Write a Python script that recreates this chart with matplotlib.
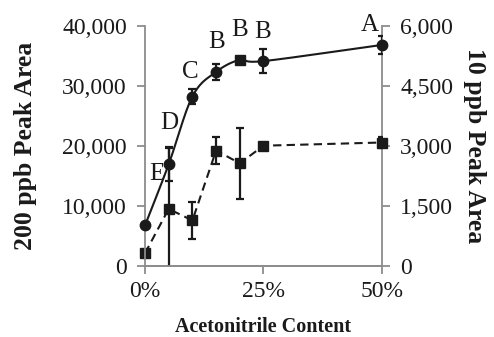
import numpy as np
import matplotlib
matplotlib.use("Agg")
import matplotlib.pyplot as plt
from matplotlib.ticker import FuncFormatter

plt.rcParams['font.family'] = ['Liberation Serif', 'DejaVu Serif']

acn = [0, 5, 10, 15, 20, 25, 50]
ppb200 = [6700, 16900, 28200, 32300, 34300, 34100, 36800]
ppb200_err = [0, 2800, 1300, 1300, 0, 2000, 1500]
ppb10 = [310, 1420, 1130, 2880, 2560, 3000, 3080]
ppb10_err = [0, 1550, 470, 330, 890, 0, 140]
letter_txt = ['E', 'D', 'C', 'B', 'B', 'B', 'A']


def catmull(x, y, n=30):
    x = np.asarray(x, float); y = np.asarray(y, float)
    px = np.concatenate([[2*x[0]-x[1]], x, [2*x[-1]-x[-2]]])
    py = np.concatenate([[2*y[0]-y[1]], y, [2*y[-1]-y[-2]]])
    ox, oy = [], []
    for i in range(1, len(px)-2):
        t = np.linspace(0, 1, n, endpoint=False)
        for arr, out in ((px, ox), (py, oy)):
            p0, p1, p2, p3 = arr[i-1], arr[i], arr[i+1], arr[i+2]
            out.extend(0.5*((2*p1) + (-p0+p2)*t + (2*p0-5*p1+4*p2-p3)*t**2 + (-p0+3*p1-3*p2+p3)*t**3))
    ox.append(x[-1]); oy.append(y[-1])
    return np.array(ox), np.array(oy)


fig = plt.figure(figsize=(4.94, 3.37), dpi=100)
ax = fig.add_axes([0.2935, 0.2116, 0.4798, 0.7121])
ax2 = ax.twinx()
ink = '#1a1a1a'

# 200 ppb series (left)
sx, sy = catmull(acn, ppb200)
ax.plot(sx, sy, color=ink, lw=1.5, zorder=3)
ax.errorbar(acn, ppb200, yerr=ppb200_err, fmt='none', ecolor=ink, elinewidth=1.6,
            capsize=2.8, capthick=1.6, zorder=3)
mk = ['o', 'o', 'o', 'o', 's', 'o', 'o']
for xi, yi, m in zip(acn, ppb200, mk):
    ax.plot(xi, yi, marker=m, color=ink, ms=7.5, ls='none', zorder=4, clip_on=False)

# 10 ppb series (right)
ax2.errorbar(acn, ppb10, yerr=ppb10_err, fmt='none', ecolor=ink, elinewidth=1.6,
             capsize=2.8, capthick=1.6, zorder=3)
ax2.plot(acn, ppb10, 's--', color=ink, ms=7.5, lw=1.5, dashes=(4, 2.5), zorder=4, clip_on=False)

ax.set_xlim(0, 50)
ax.set_ylim(0, 40000)
ax2.set_ylim(0, 6000)
ax.set_xticks([0, 25, 50])
ax.set_yticks([0, 10000, 20000, 30000, 40000])
ax2.set_yticks([0, 1500, 3000, 4500, 6000])
ax.xaxis.set_major_formatter(FuncFormatter(lambda v, p: f"{int(v)}%"))
ax.yaxis.set_major_formatter(FuncFormatter(lambda v, p: f"{int(v):,}"))
ax2.yaxis.set_major_formatter(FuncFormatter(lambda v, p: f"{int(v):,}"))

spine_c = '#8c8c8c'
for a in (ax, ax2):
    a.spines['top'].set_visible(False)
    for s in ('left', 'right', 'bottom'):
        a.spines[s].set_color(spine_c)
        a.spines[s].set_linewidth(1.3)
    a.tick_params(direction='out', length=6, width=1.3, color=spine_c, labelsize=17,
                  labelcolor=ink, pad=7)
ax.tick_params(axis='x', pad=5)
ax2.spines['left'].set_visible(False)
ax.spines['right'].set_visible(False)

ax.set_ylabel('200 ppb Peak Area', fontsize=18.5, fontweight='bold', labelpad=18, color=ink)
ax2.set_ylabel('10 ppb Peak Area', fontsize=18.5, fontweight='bold', rotation=270,
               labelpad=24, color=ink)
ax.set_xlabel('Acetonitrile Content', fontsize=14.5, fontweight='bold', labelpad=11, color=ink)

# letter annotations
pos = [(2.5, 15300), (5.1, 23800), (9.5, 32300), (15.0, 37300), (20.0, 39300),
       (24.9, 39000), (47.5, 40100)]
for (lx, ly), t in zip(pos, letter_txt):
    ax.text(lx, ly, t, fontsize=18, ha='center', va='center', color=ink, zorder=5)

ax.set_zorder(ax2.get_zorder() + 1)
ax.patch.set_visible(False)

fig.savefig('out.png', dpi=100)
